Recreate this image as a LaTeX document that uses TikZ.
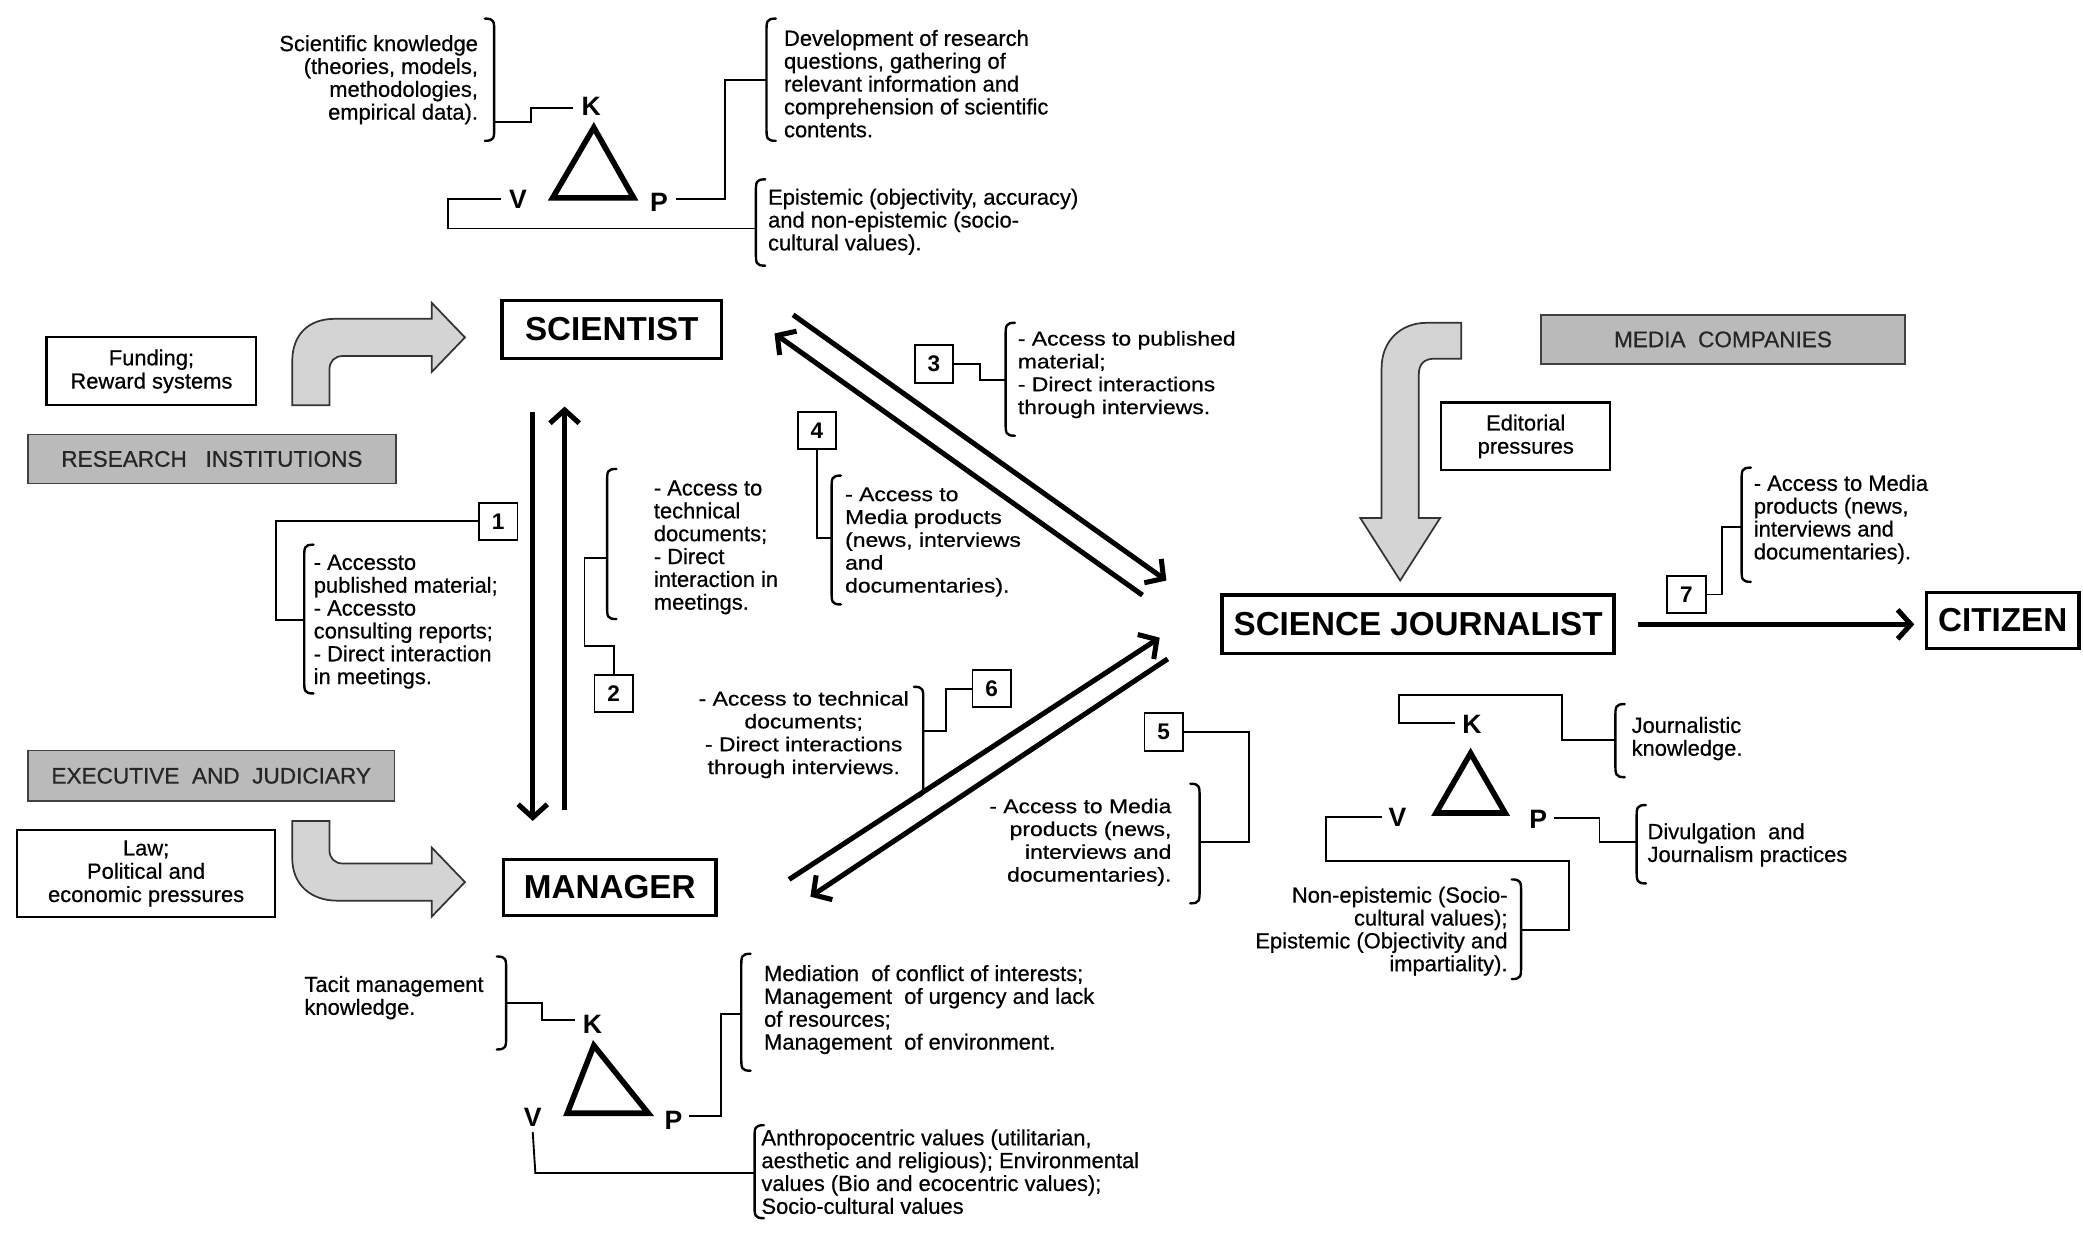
\documentclass[tikz,border=0pt]{standalone}
\usepackage{fontspec}
\setmainfont{Liberation Sans}
\newfontfamily\normfont[FakeBold=0.6]{Liberation Sans}
\newfontfamily\widefont[FakeStretch=1.15,FakeBold=0.6]{Liberation Sans}
\usetikzlibrary{arrows.meta}
\newcommand\LBrk[3]{\draw[brk] ({#1+7},#2) .. controls (#1,#2) and (#1,{#2+2}) .. (#1,{#2+10}) -- (#1,{#3-10}) .. controls (#1,{#3-2}) and (#1,#3) .. ({#1+7},#3);}
\newcommand\RBrk[3]{\draw[brk] ({#1-7},#2) .. controls (#1,#2) and (#1,{#2+2}) .. (#1,{#2+10}) -- (#1,{#3-10}) .. controls (#1,{#3-2}) and (#1,#3) .. ({#1-7},#3);}
\begin{document}
\begin{tikzpicture}[x=1pt,y=-1pt,
  txt/.style={inner sep=0pt, font=\normfont\fontsize{16.5}{17.2}\selectfont},
  wtxt/.style={inner sep=0pt, font=\widefont\fontsize{15}{17.2}\selectfont},
  mainbox/.style={draw, line width=2.6pt, inner sep=0pt, font=\bfseries\fontsize{25}{26}\selectfont},
  numbox/.style={draw, line width=1.4pt, minimum width=29pt, minimum height=28pt, inner sep=0pt, font=\bfseries\fontsize{17}{17}\selectfont},
  thinbox/.style={draw, line width=1.6pt, inner sep=0pt, align=center, font=\normfont\fontsize{16.5}{17.5}\selectfont},
  graybox/.style={draw=black!75, line width=1.2pt, fill=black!27, inner sep=0pt, font=\normfont\fontsize{17}{17}\selectfont, text=black!85},
  conn/.style={line width=1.4pt},
  brk/.style={line width=1.8pt, line cap=round},
  bigarrow/.style={line width=3.8pt, -{Straight Barb[length=10pt,width=22pt]}},
  tri/.style={line width=4.2pt, line join=miter},
  kvp/.style={inner sep=0pt, font=\bfseries\fontsize{20}{20}\selectfont},
  grayarrow/.style={draw=black!80, line width=1.3pt, fill=black!17}
]
\fill[white] (0,0) rectangle (1568,928);
\useasboundingbox (0,0) rectangle (1568,928);

% ---------- Scientist KVP ----------
\node[txt, anchor=east, align=right] (sk) at (360,60) {Scientific knowledge\\(theories, models,\\methodologies,\\empirical data).};
\node[txt, anchor=west, align=left] (dev) at (590,63) {Development of research\\questions, gathering of\\relevant information and\\comprehension of scientific\\contents.};
\node[txt, anchor=west, align=left] (epi) at (578,167) {Epistemic (objectivity, accuracy)\\and non-epistemic (socio-\\cultural values).};
\node[kvp] (Kt) at (445,80) {K};
\node[kvp] (Vt) at (390,150) {V};
\node[kvp] (Pt) at (496,152) {P};
\draw[tri] (447,96) -- (477,149) -- (416,149) -- cycle;
\RBrk{372}{14}{106}
\LBrk{577}{14}{106}
\LBrk{569}{135}{200}
\draw[conn] (372,92) -- (400,92) -- (400,81) -- ([xshift=-6pt]Kt.west |- 0,81);
\draw[conn] ([xshift=6pt]Pt.east |- 0,150) -- (546,150) -- (546,60) -- (577,60);
\draw[conn] ([xshift=-6pt]Vt.west |- 0,150) -- (337,150) -- (337,172) -- (569,172);

% ---------- Left: research institutions ----------
\node[thinbox, minimum width=158pt, minimum height=51pt] (fund) at (114,279.5) {Funding;\\Reward systems};
\node[graybox, minimum width=277pt, minimum height=37pt] (ri) at (159.5,345.5) {RESEARCH\ \ \ INSTITUTIONS};
\path[grayarrow] (220,305) -- (220,272) .. controls (220,252) and (232,240) .. (252,240) -- (325,240) -- (325,228) -- (350,254) -- (325,280) -- (325,268) -- (258,268) .. controls (252,268) and (248,272) .. (248,278) -- (248,305) -- cycle;

% ---------- Main boxes ----------
\node[mainbox, minimum width=165pt, minimum height=44pt] (sci) at (460.5,248) {SCIENTIST};
\node[mainbox, minimum width=160pt, minimum height=42pt] (man) at (459,668) {MANAGER};
\node[mainbox, minimum width=295pt, minimum height=44pt] (jour) at (1067.5,470) {SCIENCE JOURNALIST};
\node[mainbox, minimum width=115pt, minimum height=42pt] (cit) at (1507.5,467) {CITIZEN};

% ---------- Scientist <-> Manager ----------
\coordinate (sm1a) at (401,310);
\coordinate (sm1b) at (401,618);
\coordinate (sm2a) at (425,610);
\coordinate (sm2b) at (425,306);
\draw[bigarrow] (sm1a) -- (sm1b);
\draw[bigarrow] (sm2a) -- (sm2b);

\node[numbox] (n1) at (375,392.5) {1};
\node[txt, anchor=west, align=left] (t1) at (236,468) {- Accessto\\published material;\\- Accessto\\consulting reports;\\- Direct interaction\\in meetings.};
\LBrk{229}{410}{522}
\draw[conn] (n1.west) -- (208,392.5) -- (208,467) -- (229,467);

\node[numbox] (n2) at (462,522) {2};
\node[txt, anchor=west, align=left] (t2) at (492,412) {- Access to\\technical\\documents;\\- Direct\\interaction in\\meetings.};
\LBrk{457}{353}{466}
\draw[conn] (457,420) -- (440,420) -- (440,486) -- (462,486) -- (n2.north);

% ---------- Scientist <-> Journalist ----------
\coordinate (sj1a) at (597,237);
\coordinate (sj1b) at (878,437);
\coordinate (sj2a) at (860,448);
\coordinate (sj2b) at (583,251);
\draw[bigarrow] (sj1a) -- (sj1b);
\draw[bigarrow] (sj2a) -- (sj2b);

\node[numbox] (n3) at (703,274) {3};
\node[wtxt, anchor=west, align=left] (t3) at (766,282) {- Access to published\\material;\\- Direct interactions\\through interviews.};
\LBrk{757}{243}{328}
\draw[conn] (n3.east) -- (738,274) -- (738,286) -- (757,286);

\node[numbox] (n4) at (615,324) {4};
\node[wtxt, anchor=west, align=left] (t4) at (636,408) {- Access to\\Media products\\(news, interviews\\and\\documentaries).};
\LBrk{626}{358}{455}
\draw[conn] (n4.south) -- (615,405) -- (626,405);

% ---------- Manager <-> Journalist ----------
\coordinate (mj1a) at (594,662);
\coordinate (mj1b) at (873,480);
\coordinate (mj2a) at (879,496);
\coordinate (mj2b) at (610,675);
\draw[bigarrow] (mj1a) -- (mj1b);
\draw[bigarrow] (mj2a) -- (mj2b);

\node[numbox] (n6) at (746.5,518.5) {6};
\node[wtxt, align=center] (t6) at (605,553) {- Access to technical\\documents;\\- Direct interactions\\through interviews.};
\RBrk{695}{517}{600}
\draw[conn] (n6.west) -- (712,518.5) -- (712,550) -- (695,550);

\node[numbox] (n5) at (876,551) {5};
\node[wtxt, anchor=east, align=right] (t5) at (882,634) {- Access to Media\\products (news,\\interviews and\\documentaries).};
\RBrk{903}{590}{680}
\draw[conn] (n5.east) -- (940,551) -- (940,634) -- (903,634);

% ---------- Media companies ----------
\node[graybox, minimum width=274pt, minimum height=37pt] (mc) at (1297,255.5) {MEDIA\ \ COMPANIES};
\path[grayarrow] (1100,243) -- (1074,243) .. controls (1054,243) and (1040,257) .. (1040,277) -- (1040,390) -- (1024,390) -- (1054,437) -- (1084,390) -- (1068,390) -- (1068,282) .. controls (1068,274) and (1072,270) .. (1080,270) -- (1100,270) -- cycle;
\node[thinbox, minimum width=127pt, minimum height=51pt] (ed) at (1148.5,328.5) {Editorial\\pressures};

% ---------- Journalist -> Citizen ----------
\coordinate (jc1) at (1233,470);
\coordinate (jc2) at (1441,470);
\draw[bigarrow] (jc1) -- (jc2);
\node[numbox] (n7) at (1269.5,447.5) {7};
\node[txt, anchor=west, align=left] (t7) at (1320,391) {- Access to Media\\products (news,\\interviews and\\documentaries).};
\LBrk{1311}{352}{438}
\draw[conn] (n7.east) -- (1296,447.5) -- (1296,397) -- (1311,397);

% ---------- Journalist KVP ----------
\node[kvp] (Kj) at (1108,545) {K};
\node[kvp] (Vj) at (1052,615) {V};
\node[kvp] (Pj) at (1158,617) {P};
\draw[tri] (1107,567) -- (1133,612) -- (1081,612) -- cycle;
\node[txt, anchor=west, align=left] (jk) at (1228,556) {Journalistic\\knowledge.};
\node[txt, anchor=west, align=left] (div) at (1240,636) {Divulgation\ \ and\\Journalism practices};
\node[txt, anchor=east, align=right] (nep) at (1135,701) {Non-epistemic (Socio-\\cultural values);\\Epistemic (Objectivity and\\impartiality).};
\LBrk{1216}{530}{585}
\LBrk{1232}{606}{665}
\RBrk{1145}{662}{737}
\draw[conn] ([xshift=-5pt]Kj.west |- 0,544) -- (1053,544) -- (1053,523) -- (1176,523) -- (1176,557) -- (1216,557);
\draw[conn] ([xshift=5pt]Pj.east |- 0,616) -- (1204,616) -- (1204,634) -- (1232,634);
\draw[conn] ([xshift=-5pt]Vj.west |- 0,615) -- (998,615) -- (998,648) -- (1181,648) -- (1181,700) -- (1145,700);

% ---------- Executive and judiciary ----------
\node[graybox, minimum width=276pt, minimum height=38pt] (ex) at (159,584) {EXECUTIVE\ \ AND\ \ JUDICIARY};
\node[thinbox, minimum width=194pt, minimum height=65pt] (law) at (110,657.5) {Law;\\Political and\\economic pressures};
\path[grayarrow] (220,618) -- (248,618) -- (248,640) .. controls (248,646) and (252,650) .. (258,650) -- (325,650) -- (325,638) -- (350,664) -- (325,690) -- (325,678) -- (254,678) .. controls (234,678) and (220,666) .. (220,646) -- cycle;

% ---------- Manager KVP ----------
\node[kvp] (Km) at (446,771) {K};
\node[kvp] (Vm) at (401,841) {V};
\node[kvp] (Pm) at (507,843) {P};
\draw[tri] (447,787) -- (488,838) -- (427,838) -- cycle;
\node[txt, anchor=west, align=left] (tac) at (229,751) {Tacit management\\knowledge.};
\node[txt, anchor=west, align=left] (med) at (575,760) {Mediation\ \ of conflict of interests;\\Management\ \ of urgency and lack\\of resources;\\Management\ \ of environment.};
\node[txt, anchor=west, align=left] (ant) at (573,882) {Anthropocentric values (utilitarian,\\aesthetic and religious); Environmental\\values (Bio and ecocentric values);\\Socio-cultural values};
\RBrk{381}{720}{790}
\LBrk{558}{718}{806}
\LBrk{568}{847}{917}
\draw[conn] (381,755) -- (408,755) -- (408,768) -- ([xshift=-6pt]Km.west |- 0,768);
\draw[conn] ([xshift=5pt]Pm.east |- 0,840) -- (543,840) -- (543,763) -- (558,763);
\draw[conn] ([yshift=-4pt]Vm.south) -- (403,883) -- (568,883);
\end{tikzpicture}
\end{document}
